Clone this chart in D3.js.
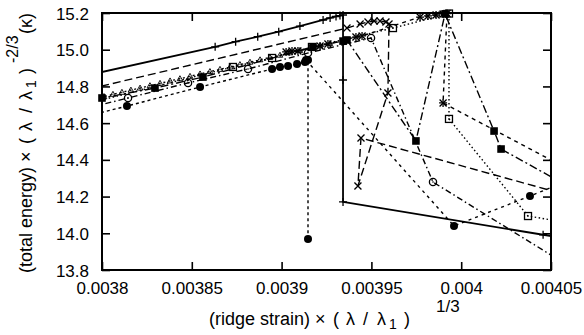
<!DOCTYPE html>
<html><head><meta charset="utf-8">
<script src="https://cdn.jsdelivr.net/npm/d3@7"></script>
<style>
body{margin:0;background:#fff}
svg{display:block}
text{font-family:"Liberation Sans",Arial,Helvetica,sans-serif;fill:#000}
</style>
</head><body><svg id="c" width="584" height="335"></svg>
<script>
// ---- tick labels ----
const xTicks = [0.0038, 0.00385, 0.0039, 0.00395, 0.004, 0.00405];
const xTickLabels = ["0.0038", "0.00385", "0.0039", "0.00395", "0.004", "0.00405"];
const yTicks = [13.8, 14.0, 14.2, 14.4, 14.6, 14.8, 15.0, 15.2];
const yTickLabels = ["13.8", "14.0", "14.2", "14.4", "14.6", "14.8", "15.0", "15.2"];

// ---- series (x = ridge strain scaled, y = total energy scaled) ----
const s1x = [0.00378, 0.003863, 0.0038744, 0.0038867, 0.0038984, 0.0039102, 0.0039231, 0.003927, 0.0039303, 0.0039325, 0.0039342, 0.0039342, 0.0039342, 0.0040456, 0.004071];
const s1y = [14.835, 15.016, 15.044, 15.071, 15.098, 15.129, 15.162, 15.173, 15.181, 15.186, 15.189, 14.835, 14.171, 13.992, 13.953];

const s2x = [0.00378, 0.0039364, 0.0039437, 0.0039481, 0.0039515, 0.0039548, 0.0039581, 0.0039598, 0.0039592, 0.0039425, 0.0039442, 0.004071];
const s2y = [14.756, 15.118, 15.140, 15.151, 15.156, 15.156, 15.151, 15.140, 14.764, 14.258, 14.519, 14.176];

const s3x = [0.0039025, 0.0039058, 0.0039091, 0.0039214, 0.0039258, 0.0039414, 0.0039448, 0.0039771, 0.0039815, 0.003986, 0.0039899, 0.0039921, 0.0039899, 0.0040773];
const s3y = [14.988, 14.993, 14.993, 15.020, 15.031, 15.069, 15.075, 15.178, 15.184, 15.189, 15.195, 15.197, 14.710, 14.258];

const s4x = [0.00378, 0.0038729, 0.0038947, 0.0039169, 0.003962, 0.0039932, 0.0039932, 0.0040372, 0.0040773];
const s4y = [14.677, 14.906, 14.955, 15.015, 15.118, 15.197, 14.623, 14.094, 14.029];

const s5x = [0.00378, 0.0038, 0.0038295, 0.0038562, 0.0039175, 0.0039342, 0.0039364, 0.0039748, 0.003991, 0.0040183, 0.0040222, 0.0040773];
const s5y = [14.704, 14.737, 14.791, 14.851, 15.015, 15.047, 15.053, 14.503, 15.195, 14.557, 14.459, 14.160];

const s6x = [0.00378, 0.0038145, 0.0038479, 0.0038813, 0.0039147, 0.0039498, 0.0039843, 0.0040773];
const s6y = [14.653, 14.737, 14.819, 14.895, 14.982, 15.064, 14.279, 13.716];

const s7x = [0.00378, 0.0038139, 0.0038546, 0.0038947, 0.0038991, 0.0039036, 0.0039086, 0.003913, 0.0039147, 0.0039147];
const s7y = [14.610, 14.693, 14.797, 14.895, 14.906, 14.911, 14.922, 14.933, 14.944, 13.969];

const s8x = [0.00378, 0.0038011, 0.0038061, 0.0038111, 0.0038161, 0.0038212, 0.0038267, 0.0038323, 0.0038379, 0.0038434, 0.003849, 0.0038546, 0.0038601, 0.0038657, 0.0038713, 0.0038768, 0.0038824, 0.003888, 0.0038935, 0.0038991, 0.0039047, 0.0039102, 0.0039158, 0.0039214, 0.0039269];
const s8y = [14.696, 14.745, 14.757, 14.768, 14.780, 14.791, 14.804, 14.817, 14.830, 14.842, 14.855, 14.868, 14.881, 14.893, 14.906, 14.919, 14.932, 14.945, 14.958, 14.970, 14.983, 14.996, 15.009, 15.021, 15.034];

const s9x = [0.0039136, 0.003996, 0.0040383, 0.0040773];
const s9y = [14.944, 14.040, 14.203, 14.356];

// ---- styles ----
const series = [
  {x: s1x, y: s1y, dash: null,            lw: 1.8, marker: "plus"},
  {x: s2x, y: s2y, dash: "8,4",           lw: 1.4, marker: "cross"},
  {x: s3x, y: s3y, dash: "4,4",           lw: 1.4, marker: "star"},
  {x: s4x, y: s4y, dash: "1.5,2.5",       lw: 1.4, marker: "opensquare"},
  {x: s5x, y: s5y, dash: "8,3,2,3",       lw: 1.4, marker: "filledsquare"},
  {x: s6x, y: s6y, dash: "6,3,1.5,3",     lw: 1.4, marker: "opencircle"},
  {x: s7x, y: s7y, dash: "3,3",           lw: 1.4, marker: "filledcircle"},
  {x: s8x, y: s8y, dash: "2,3",           lw: 1.3, marker: "triangle"},
  {x: s9x, y: s9y, dash: "3,4",           lw: 1.4, marker: "filledcircle"}
];

const L = 102, R = 551, T = 13, B = 270;
const svg = d3.select("#c");
const x = d3.scaleLinear().domain([0.0038, 0.00405]).range([L, R]);
const y = d3.scaleLinear().domain([13.8, 15.2]).range([B, T]);

svg.append("defs").append("clipPath").attr("id", "clip")
  .append("rect").attr("x", L).attr("y", T).attr("width", R - L).attr("height", B - T);

// axes with inward ticks
const fs = "17px";
const gx = svg.append("g").attr("transform", `translate(0,${B})`)
  .call(d3.axisBottom(x).tickValues(xTicks).tickFormat((d, i) => xTickLabels[i]).tickSizeInner(-8).tickSizeOuter(0).tickPadding(12));
const gxt = svg.append("g").attr("transform", `translate(0,${T})`)
  .call(d3.axisTop(x).tickValues(xTicks).tickFormat("").tickSizeInner(-8).tickSizeOuter(0));
const gy = svg.append("g").attr("transform", `translate(${L},0)`)
  .call(d3.axisLeft(y).tickValues(yTicks).tickFormat((d, i) => yTickLabels[i]).tickSizeInner(-8).tickSizeOuter(0).tickPadding(13));
const gyr = svg.append("g").attr("transform", `translate(${R},0)`)
  .call(d3.axisRight(y).tickValues(yTicks).tickFormat("").tickSizeInner(-8).tickSizeOuter(0));
[gx, gxt, gy, gyr].forEach(g => {
  g.select(".domain").remove();
  g.selectAll(".tick line").attr("stroke", "#000").attr("stroke-width", 1.6);
  g.selectAll("text").style("font-size", fs).attr("fill", "#000")
    .style("font-family", '"Liberation Sans",Arial,Helvetica,sans-serif');
});
gy.selectAll("text").attr("dy", "0.36em");

// lines
const plot = svg.append("g").attr("clip-path", "url(#clip)");
const line = d3.line().x(d => x(d[0])).y(d => y(d[1]));
series.forEach(s => {
  const pts = s.x.map((v, i) => [v, s.y[i]]);
  plot.append("path").attr("d", line(pts)).attr("fill", "none")
    .attr("stroke", "#000").attr("stroke-width", s.lw)
    .attr("stroke-dasharray", s.dash).attr("stroke-linejoin", "round");
});

// markers
const mk = svg.append("g");
function drawMarker(g, type, cx, cy) {
  const sw = 1.3;
  if (type === "plus" || type === "star") {
    g.append("path").attr("d", `M${cx-4},${cy}H${cx+4}M${cx},${cy-4}V${cy+4}`).attr("stroke", "#000").attr("stroke-width", sw);
  }
  if (type === "cross" || type === "star") {
    g.append("path").attr("d", `M${cx-3.5},${cy-3.5}L${cx+3.5},${cy+3.5}M${cx-3.5},${cy+3.5}L${cx+3.5},${cy-3.5}`).attr("stroke", "#000").attr("stroke-width", sw);
  }
  if (type === "opensquare") {
    g.append("rect").attr("x", cx - 3.5).attr("y", cy - 3.5).attr("width", 7).attr("height", 7)
      .attr("fill", "none").attr("stroke", "#000").attr("stroke-width", sw);
    g.append("circle").attr("cx", cx).attr("cy", cy).attr("r", 0.8).attr("fill", "#000");
  }
  if (type === "filledsquare") {
    g.append("rect").attr("x", cx - 3.8).attr("y", cy - 3.8).attr("width", 7.6).attr("height", 7.6).attr("fill", "#000");
  }
  if (type === "opencircle") {
    g.append("circle").attr("cx", cx).attr("cy", cy).attr("r", 3.6).attr("fill", "none").attr("stroke", "#000").attr("stroke-width", sw);
    g.append("circle").attr("cx", cx).attr("cy", cy).attr("r", 0.8).attr("fill", "#000");
  }
  if (type === "filledcircle") {
    g.append("circle").attr("cx", cx).attr("cy", cy).attr("r", 4).attr("fill", "#000");
  }
  if (type === "triangle") {
    g.append("path").attr("d", `M${cx},${cy-3}L${cx+2.8},${cy+2}L${cx-2.8},${cy+2}Z`).attr("fill", "none").attr("stroke", "#000").attr("stroke-width", 0.9);
    g.append("circle").attr("cx", cx).attr("cy", cy).attr("r", 0.6).attr("fill", "#000");
  }
}
series.forEach(s => {
  s.x.forEach((v, i) => {
    const w = s.y[i];
    if (v < 0.0038 - 1e-12 || v > 0.00405 + 1e-12 || w < 13.8 || w > 15.2) return;
    drawMarker(mk, s.marker, x(v), y(w));
  });
});

// frame
svg.append("rect").attr("x", L).attr("y", T).attr("width", R - L).attr("height", B - T)
  .attr("fill", "none").attr("stroke", "#000").attr("stroke-width", 2);

// axis titles (gnuplot enhanced-text style spacing)
const tfs = "18px";
const xt = svg.append("text").attr("y", 325).style("font-size", tfs);
xt.append("tspan").attr("x", 209).text("(ridge strain)");
xt.append("tspan").attr("x", 315).text("\u00d7");
xt.append("tspan").attr("x", 333).text("(");
xt.append("tspan").attr("x", 346).text("\u03bb");
xt.append("tspan").attr("x", 363).text("/");
xt.append("tspan").attr("x", 377).text("\u03bb");
xt.append("tspan").attr("x", 389).attr("dy", 4).style("font-size", "14px").text("1");
xt.append("tspan").attr("x", 404).attr("dy", -4).text(")");
xt.append("tspan").attr("x", 436).attr("dy", -13).style("font-size", "17px").text("1/3");

const yt = svg.append("text").attr("transform", "translate(32,0) rotate(-90)").style("font-size", tfs);
yt.append("tspan").attr("x", -273).text("(total energy)");
yt.append("tspan").attr("x", -162).text("\u00d7");
yt.append("tspan").attr("x", -144).text("(");
yt.append("tspan").attr("x", -131).text("\u03bb");
yt.append("tspan").attr("x", -113).text("/");
yt.append("tspan").attr("x", -100).text("\u03bb");
yt.append("tspan").attr("x", -88).attr("dy", 4).style("font-size", "14px").text("1");
yt.append("tspan").attr("x", -74).attr("dy", -4).text(")");
yt.append("tspan").attr("x", -63).attr("dy", -14).style("font-size", "16px").text("-2/3");
yt.append("tspan").attr("x", -34).attr("dy", 14).text("(\u03ba)");
</script>
</body></html>
